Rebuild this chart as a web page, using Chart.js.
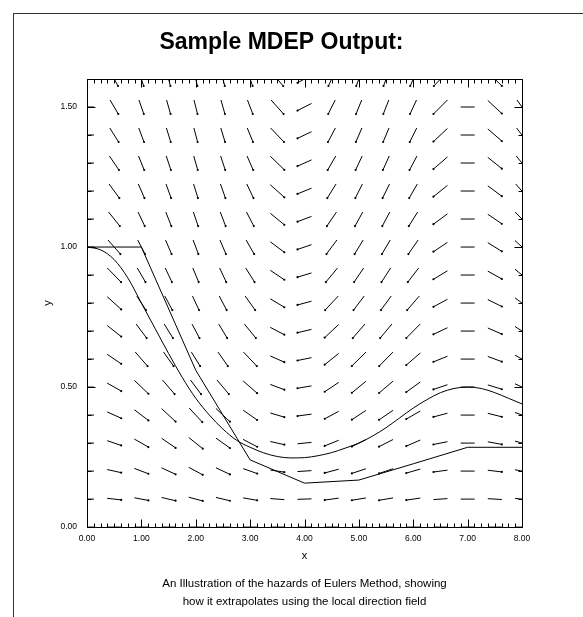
<!DOCTYPE html>
<html>
<head>
<meta charset="utf-8">
<title>Sample MDEP Output</title>
<script src="https://cdn.jsdelivr.net/npm/chart.js@4.4.1/dist/chart.umd.min.js"></script>
<style>
  html, body { margin: 0; padding: 0; background: #fff; overflow: hidden; }
  #frame { position: absolute; left: 13px; top: 13px; width: 640px; height: 660px; border: 1px solid #333; }
  #wrap { position: absolute; left: 0; top: 0; }
</style>
</head>
<body>
<div id="frame"></div>
<div id="wrap"><canvas id="mdepChart" width="563" height="617"></canvas></div>
<script>
// exact solution, every 0.25
const exactX = [0, 0.25, 0.5, 0.75, 1, 1.25, 1.5, 1.75, 2, 2.25, 2.5, 2.75, 3, 3.25, 3.5, 3.75,
                4, 4.25, 4.5, 4.75, 5, 5.25, 5.5, 5.75, 6, 6.25, 6.5, 6.75, 7, 7.25, 7.5, 7.75, 8];
const exactY = [1.0, 0.99, 0.955, 0.89, 0.80, 0.71, 0.62, 0.535, 0.46, 0.40, 0.35, 0.31, 0.285, 0.265, 0.252, 0.247,
                0.248, 0.255, 0.266, 0.282, 0.30, 0.325, 0.355, 0.39, 0.425, 0.455, 0.48, 0.495, 0.50, 0.495, 0.48, 0.46, 0.44];

// Euler steps (h = 1)
const eulerX = [0, 1, 2, 3, 4, 5, 6, 7, 8];
const eulerY = [1.0, 1.0, 0.56, 0.24, 0.157, 0.168, 0.226, 0.285, 0.285];

// direction field: columns, rows and slope per unit y for each column
const fieldX = [0, 0.5, 1, 1.5, 2, 2.5, 3, 3.5, 4, 4.5, 5, 5.5, 6, 6.5, 7, 7.5, 8];
const fieldRate = [0, -0.22, -0.37, -0.45, -0.52, -0.46, -0.34, -0.145, 0.066, 0.26, 0.32, 0.33, 0.28, 0.13, 0, -0.12, -0.18];
const fieldY = [0, 0.1, 0.2, 0.3, 0.4, 0.5, 0.6, 0.7, 0.8, 0.9, 1.0, 1.1, 1.2, 1.3, 1.4, 1.5, 1.6];

const titleText = 'Sample MDEP Output:';
const captionLines = ['An Illustration of the hazards of Eulers Method, showing',
                      'how it extrapolates using the local direction field'];

const SEG_HALF = 7;

Chart.defaults.font.family = '"Liberation Sans", Arial, Helvetica, sans-serif';
Chart.defaults.color = '#000';

const isMajorY = v => Math.abs(v * 2 - Math.round(v * 2)) < 1e-9;

// direction field, plot box and inward ticks
const fieldPlugin = {
  id: 'directionField',
  afterDatasetsDraw(chart) {
    const {ctx, chartArea: a, scales: {x, y}} = chart;
    const ppx = x.getPixelForValue(1) - x.getPixelForValue(0);
    const ppy = y.getPixelForValue(0) - y.getPixelForValue(1);

    ctx.save();
    ctx.beginPath();
    ctx.rect(a.left, a.top, a.right - a.left + 1, a.bottom - a.top);
    ctx.clip();
    ctx.strokeStyle = '#000';
    ctx.fillStyle = '#000';
    ctx.lineWidth = 1;
    fieldX.forEach((xv, i) => {
      fieldY.forEach(yv => {
        const s = fieldRate[i] * yv * ppy / ppx;
        let dx = SEG_HALF, dy = s * SEG_HALF;
        if (Math.abs(s) > 1) {
          dx = SEG_HALF / Math.abs(s);
          dy = SEG_HALF * Math.sign(s);
        }
        const cx = x.getPixelForValue(xv), cy = y.getPixelForValue(yv);
        const x1 = cx - dx, y1 = cy + dy, x2 = cx + dx, y2 = cy - dy;
        ctx.beginPath();
        ctx.moveTo(x1, y1);
        ctx.lineTo(x2, y2);
        ctx.stroke();
        if (Math.abs(y1 - y2) > 1.5) {
          const lx = y1 > y2 ? x1 : x2, ly = Math.max(y1, y2);
          ctx.beginPath();
          ctx.arc(lx, ly, 1.1, 0, Math.PI * 2);
          ctx.fill();
        }
      });
    });
    ctx.restore();

    ctx.save();
    ctx.strokeStyle = '#000';
    ctx.lineWidth = 1;
    const L = Math.round(a.left) + 0.5, R = Math.round(a.right) + 0.5;
    const T = Math.round(a.top) + 0.5, B = Math.round(a.bottom) + 0.5;
    ctx.beginPath();
    ctx.rect(L, T, R - L, B - T);
    x.ticks.forEach(t => {
      const px = Math.round(x.getPixelForValue(t.value)) + 0.5;
      const len = Number.isInteger(t.value) ? 8 : 4;
      ctx.moveTo(px, B); ctx.lineTo(px, B - len);
      ctx.moveTo(px, T); ctx.lineTo(px, T + len);
    });
    y.ticks.forEach(t => {
      const py = Math.round(y.getPixelForValue(t.value)) + 0.5;
      const len = isMajorY(t.value) ? 8 : 4;
      ctx.moveTo(L, py); ctx.lineTo(L + len, py);
      ctx.moveTo(R, py); ctx.lineTo(R - len, py);
    });
    ctx.stroke();
    ctx.restore();
  }
};

const ctx = document.getElementById('mdepChart').getContext('2d');
new Chart(ctx, {
  type: 'scatter',
  data: {
    datasets: [{
      label: 'Exact',
      data: exactX.map((v, i) => ({x: v, y: exactY[i]})),
      showLine: true,
      borderColor: '#000',
      borderWidth: 1,
      pointRadius: 0,
      cubicInterpolationMode: 'monotone'
    }, {
      label: 'Euler',
      data: eulerX.map((v, i) => ({x: v, y: eulerY[i]})),
      showLine: true,
      borderColor: '#000',
      borderWidth: 1,
      pointRadius: 0,
      tension: 0
    }]
  },
  options: {
    responsive: false,
    animation: false,
    events: [],
    layout: { padding: { left: 41, top: 0, right: 41, bottom: 0 } },
    plugins: {
      legend: { display: false },
      tooltip: { enabled: false },
      title: {
        display: true,
        text: titleText,
        font: { size: 23, weight: 'bold' },
        padding: { top: 28.6, bottom: 22.8 }
      },
      subtitle: {
        display: true,
        position: 'bottom',
        fullSize: false,
        text: captionLines,
        font: { size: 11.5, lineHeight: 1.5 },
        padding: { top: 13, bottom: 7 }
      }
    },
    scales: {
      x: {
        type: 'linear',
        min: 0,
        max: 8,
        grid: { display: false, drawTicks: false },
        border: { display: false },
        ticks: {
          stepSize: 0.125,
          autoSkip: false,
          maxRotation: 0,
          padding: 6,
          font: { size: 8.5 },
          callback: v => Number.isInteger(v) ? v.toFixed(2) : ''
        },
        title: { display: true, text: 'x', font: { size: 11 }, padding: { top: 0, bottom: 0 } }
      },
      y: {
        type: 'linear',
        min: 0,
        max: 1.6,
        grid: { display: false, drawTicks: false },
        border: { display: false },
        afterFit: scale => { scale.width = 46; },
        ticks: {
          stepSize: 0.1,
          autoSkip: false,
          padding: 10,
          font: { size: 8.5 },
          callback: v => isMajorY(v) ? v.toFixed(2) : ''
        },
        title: { display: true, text: 'y', font: { size: 11 }, padding: { top: 0, bottom: 0 } }
      }
    }
  },
  plugins: [fieldPlugin]
});
</script>
</body>
</html>
